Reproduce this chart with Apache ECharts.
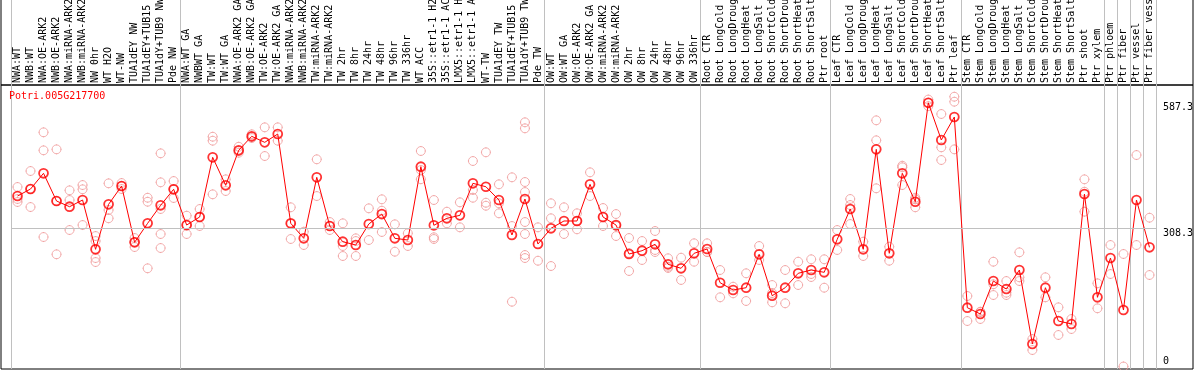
<!DOCTYPE html>
<html><head><meta charset="utf-8">
<script src="https://cdn.jsdelivr.net/npm/echarts@6/dist/echarts.min.js"></script>
<style>html,body{margin:0;padding:0;background:#fff}#c{width:1194px;height:370px}</style>
</head><body><div id="c"></div>
<script>
const categories = [
'NWA:WT','NWB:WT','NWA:OE-ARK2','NWB:OE-ARK2','NWA:miRNA-ARK2','NWB:miRNA-ARK2','NW 0hr','WT H2O','WT-NW','TUA1dEY NW','TUA1dEY+TUB15 NW','TUA1dY+TUB9 NW','Pde NW',
'NWA:WT GA','NWBWT GA','TW:WT','TW:WT GA','NWA:OE-ARK2 GA','NWB:OE-ARK2 GA','TW:OE-ARK2','TW:OE-ARK2 GA','NWA:miRNA-ARK2 GA','NWB:miRNA-ARK2 GA','TW:miRNA-ARK2','TW:miRNA-ARK2 GA','TW 2hr','TW 8hr','TW 24hr','TW 48hr','TW 96hr','TW 336hr','WT ACC','35S::etr1-1 H2O','35S::etr1-1 ACC','LMX5::etr1-1 H2O','LMX5::etr1-1 ACC','WT-TW','TUA1dEY TW','TUA1dEY+TUB15 TW','TUA1dY+TUB9 TW','Pde TW',
'OW:WT','OW:WT GA','OW:OE-ARK2','OW:OE-ARK2 GA','OW:miRNA-ARK2','OW:miRNA-ARK2 GA','OW 2hr','OW 8hr','OW 24hr','OW 48hr','OW 96hr','OW 336hr',
'Root CTR','Root LongCold','Root LongDrought','Root LongHeat','Root LongSalt','Root ShortCold','Root ShortDrought','Root ShortHeat','Root ShortSalt','Ptr root',
'Leaf CTR','Leaf LongCold','Leaf LongDrought','Leaf LongHeat','Leaf LongSalt','Leaf ShortCold','Leaf ShortDrought','Leaf ShortHeat','Leaf ShortSalt','Ptr leaf',
'Stem CTR','Stem LongCold','Stem LongDrought','Stem LongHeat','Stem LongSalt','Stem ShortCold','Stem ShortDrought','Stem ShortHeat','Stem ShortSalt','Ptr shoot','Ptr xylem','Ptr phloem','Ptr fiber','Ptr vessel','Ptr fiber vessel'
];
const means = [
379.7,395.3,430.3,368.6,355.9,370.8,261.0,361.2,402.0,276.6,318.9,359.0,394.7,
315.1,333.0,465.9,403.6,481.5,512.7,499.3,517.8,318.9,285.5,421.4,312.9,278.0,270.6,317.4,339.6,285.5,281.7,445.0,314.5,330.1,336.7,408.0,400.4,370.8,292.9,373.1,272.8,
307.8,324.1,324.1,405.8,333.0,315.1,250.6,257.9,272.2,227.6,218.7,252.1,
261.7,186.6,170.4,175.5,249.9,157.7,175.5,207.6,214.9,209.8,
283.3,350.8,261.0,483.7,252.1,430.3,367.0,587.3,504.5,555.7,
131.0,116.9,190.4,172.6,214.9,50.1,175.5,101.3,94.7,384.2,154.1,241.6,125.8,370.8,265.5
];
const replicates = [
[399.8,373.1,366.4],[435.4,395.3,355.2],[521.6,481.5,288.4],[483.7,368.6,249.9],[392.4,370.8,304.0],[404.2,394.7,315.1],
[290.6,279.5,241.6,232.7],[408.0,348.6,330.1],[408.7,402.0,395.3],[286.2,277.3,266.1],[375.9,367.0,218.7],
[474.8,410.2,350.8,295.1,263.9],[413.1,395.3,375.3],
[335.9,315.1,295.1],[350.8,333.0,312.9],[511.8,502.9,383.5],[416.9,390.9],[489.5,480.0,476.2],[517.2,511.1,508.9],
[532.7,468.8],[532.7,502.9],[354.6,317.4,284.0],[300.2,270.6],[461.5,379.7],[321.8,312.9,304.0],[318.9,268.4,246.1],
[285.5,279.5,246.1],[352.3,281.7],[372.4,347.0,299.6],[316.7,255.7],[296.7,268.4],[480.0,437.6,417.1],[370.8,287.8,284.0],
[344.8,318.9],[365.7,310.0],[457.7,393.1,375.9],[477.1,364.8,358.1],[405.8,363.5,341.2],[421.4,312.9,144.3],
[543.9,530.5,410.9,388.6,321.8,295.1,248.3,241.6],[310.0,235.6],
[363.5,330.1,223.8],[354.6,295.1],[341.2,324.1,305.6],[432.5,379.7],[353.0,333.0,312.9],[339.6,312.9,290.6],
[286.2,252.8,212.7],[279.5,237.2],[301.8,259.5,255.0],[241.0,222.3,219.4],[242.3,192.7],[274.4,233.4],
[274.4,255.0,255.0],[214.9,154.1],[177.7,163.0],[207.6,145.9],[268.4,237.2],[181.5,163.7,143.0],[214.9,140.8],
[233.4,181.5],[238.8,206.0,199.3],[238.8,175.5],
[304.0,259.5],[373.1,359.7,317.4],[278.0,246.1],[548.3,503.8,396.9],[266.8,235.6],[447.2,443.7,404.2],[375.9,372.4,354.6],
[594.6,587.3,580.0],[562.4,488.2,459.9],[600.9,589.8,483.7],
[157.0,101.3],[122.0,121.4,105.8],[233.4,183.1,159.2],[190.4,164.4,159.2],[254.3,198.7,190.4],[61.2,36.7],[198.7,154.1],
[131.8,70.2],[105.8,83.5],[416.9,389.3,344.8],[185.3,129.6],[270.6,206.0],[250.6,0],[471.0,270.6],[331.4,203.8]
];
const yLabelValues = [308.3, 587.3];
const yZeroLabel = [0];
const gridLineValue = 308.3;
const groupStarts = [0,13,41,53,63,73,84,85,86,87];
const title = 'Potri.005G217700';

const FONT = 'DejaVu Sans Mono';
const yMin = -5.57, yMax = 627;
const ring = 'path://M5,0.5L5,1.5M5,8.5L5,9.5M0.5,5L1.5,5M8.5,5L9.5,5M9,5A4,4,0,1,1,1,5A4,4,0,1,1,9,5Z';
const splitFn = function (idx) { return groupStarts.indexOf(idx) >= 0; };

const repData = [];
replicates.forEach((arr, i) => arr.forEach(v => repData.push([i, v])));
const meanData = means.map((v, i) => [i, v]);

const chart = echarts.init(document.getElementById('c'), null, {renderer: 'canvas'});
chart.setOption({
  animation: false,
  backgroundColor: '#fff',
  title: {text: title, left: 9, top: 91, padding: 0,
    textStyle: {color: '#ff0000', fontSize: 10, fontFamily: FONT, fontWeight: 'normal'}},
  grid: [
    {left: 11, right: 38, top: 85, bottom: 1, outerBoundsMode: 'none', containLabel: false},
    {left: 11, right: 38, top: 0, height: 85, outerBoundsMode: 'none', containLabel: false},
    {left: 1, right: 1, top: -2, height: 87, outerBoundsMode: 'none', show: true, borderColor: '#000', borderWidth: 1, backgroundColor: 'transparent'},
    {left: 1, right: 1, top: 85, bottom: 1, outerBoundsMode: 'none', show: true, borderColor: '#000', borderWidth: 1, backgroundColor: 'transparent'}
  ],
  xAxis: [
    {gridIndex: 0, type: 'category', data: categories, position: 'top', boundaryGap: true,
      axisLine: {show: false}, axisTick: {show: false},
      axisLabel: {interval: 0, rotate: 90, margin: 2, fontFamily: FONT, fontSize: 10, color: '#000', hideOverlap: false},
      splitLine: {show: true, interval: splitFn, lineStyle: {color: '#c0c0c0', width: 1}}},
    {gridIndex: 1, type: 'category', data: categories, boundaryGap: true,
      axisLine: {show: false}, axisTick: {show: false}, axisLabel: {show: false},
      splitLine: {show: true, interval: splitFn, lineStyle: {color: '#c0c0c0', width: 1}}},
    {gridIndex: 2, type: 'value', show: false},
    {gridIndex: 3, type: 'value', show: false}
  ],
  yAxis: [
    {gridIndex: 0, type: 'value', min: yMin, max: yMax, position: 'right', offset: 0,
      axisLine: {show: false}, axisTick: {show: false}, splitLine: {show: false},
      axisLabel: {customValues: yLabelValues, verticalAlign: 'top', margin: 7, fontFamily: FONT, fontSize: 10, color: '#000',
        formatter: v => Number(v).toFixed(1)}},
    {gridIndex: 0, type: 'value', min: yMin, max: yMax, position: 'right', offset: 0,
      axisLine: {show: false}, axisTick: {show: false}, splitLine: {show: false},
      axisLabel: {customValues: yZeroLabel, verticalAlign: 'bottom', margin: 7, fontFamily: FONT, fontSize: 10, color: '#000',
        formatter: v => String(Math.round(v))}},
    {gridIndex: 1, type: 'value', show: false},
    {gridIndex: 2, type: 'value', show: false},
    {gridIndex: 3, type: 'value', show: false}
  ],
  series: [
    {type: 'scatter', xAxisIndex: 0, yAxisIndex: 0, data: repData, symbol: ring, symbolSize: 10, silent: true, z: 2,
      itemStyle: {color: 'rgba(0,0,0,0)', borderColor: '#f09c9c', borderWidth: 1},
      markLine: {silent: true, symbol: 'none', label: {show: false}, animation: false,
        lineStyle: {color: '#c0c0c0', width: 1, type: 'solid'}, data: [{yAxis: gridLineValue}]}},
    {type: 'line', xAxisIndex: 0, yAxisIndex: 0, data: means, symbol: 'none', silent: true, z: 3,
      lineStyle: {color: '#ff0000', width: 1}},
    {type: 'scatter', xAxisIndex: 0, yAxisIndex: 0, data: meanData, symbol: ring, symbolSize: 10, silent: true, z: 4,
      itemStyle: {color: 'rgba(0,0,0,0)', borderColor: '#ff0000', borderWidth: 1.8}}
  ]
});
</script></body></html>
